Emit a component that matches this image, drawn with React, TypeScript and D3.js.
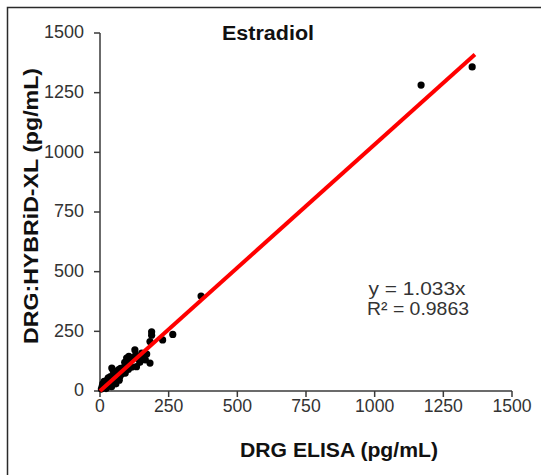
import React from "react";
import * as d3 from "d3";

const title = "Estradiol";
const xLabel = "DRG ELISA (pg/mL)";
const yLabel = "DRG:HYBRiD-XL (pg/mL)";
const xTicks = [0, 250, 500, 750, 1000, 1250, 1500];
const yTicks = [0, 250, 500, 750, 1000, 1250, 1500];
const slope = 1.033;
const eqLine1 = "y = 1.033x";
const eqLine2 = "R² = 0.9863";
const fitXMax = 1365;

const elisa = [
  5, 8, 10, 12, 15, 18, 20, 22, 25, 28, 30, 32, 35, 38, 40, 42, 43, 45, 48, 50,
  52, 55, 58, 60, 65, 68, 70, 72, 75, 78, 80, 84, 88, 90, 92, 95, 97, 100, 103,
  105, 110, 115, 120, 127, 130, 133, 140, 145, 152, 160, 165, 170, 182, 182,
  188, 188, 228, 265, 368, 1169, 1355,
];
const hybrid = [
  8, 20, 30, 15, 40, 25, 35, 10, 45, 20, 55, 35, 28, 60, 42, 18, 96, 50, 85, 35,
  65, 72, 30, 55, 80, 90, 45, 60, 95, 70, 85, 81, 100, 120, 75, 110, 138, 130,
  90, 145, 125, 100, 140, 172, 150, 102, 135, 120, 159, 145, 130, 155, 117, 207,
  234, 248, 214, 237, 398, 1282, 1358,
];

export default function App() {
  const W = 541;
  const H = 475;
  const x = d3.scaleLinear().domain([0, 1500]).range([100, 512]);
  const y = d3.scaleLinear().domain([0, 1500]).range([391, 33]);
  const axisColor = "#3a3a3a";
  const font = "Arial, 'Liberation Sans', sans-serif";
  const pts = elisa.map((v, i) => [v, hybrid[i]]);
  const fit = d3.line<number>().x((d) => x(d)).y((d) => y(d * slope));

  return (
    <svg width={W} height={H} style={{ position: "absolute", left: 0, top: 0 }}>
      <rect x={0} y={0} width={W} height={H} fill="#fff" />
      <rect x={7.5} y={7.5} width={W + 10} height={H + 10} fill="none" stroke="#2a2a2a" strokeWidth={1.5} />
      <text x={268} y={40} textAnchor="middle" fontFamily={font} fontWeight="bold" fontSize={20} fill="#111" textLength={92} lengthAdjust="spacingAndGlyphs">
        {title}
      </text>
      {/* axes */}
      <line x1={x(0)} x2={x(1500)} y1={y(0)} y2={y(0)} stroke={axisColor} strokeWidth={1.5} />
      <line x1={x(0)} x2={x(0)} y1={y(0)} y2={y(1500)} stroke={axisColor} strokeWidth={1.5} />
      {xTicks.map((t) => (
        <g key={"xt" + t}>
          <line x1={x(t)} x2={x(t)} y1={y(0)} y2={y(0) + 6} stroke={axisColor} strokeWidth={1.5} />
          <text x={x(t)} y={412} textAnchor="middle" fontFamily={font} fontSize={18} fill="#333" textLength={String(t).length * 9.8} lengthAdjust="spacingAndGlyphs">
            {t}
          </text>
        </g>
      ))}
      {yTicks.map((t) => (
        <g key={"yt" + t}>
          <line x1={x(0) - 6} x2={x(0)} y1={y(t)} y2={y(t)} stroke={axisColor} strokeWidth={1.5} />
          <text x={84} y={y(t)} dy="0.3em" textAnchor="end" fontFamily={font} fontSize={18} fill="#333" textLength={String(t).length * 10} lengthAdjust="spacingAndGlyphs">
            {t}
          </text>
        </g>
      ))}
      {/* points */}
      {pts.map((p, i) => (
        <circle key={i} cx={x(p[0])} cy={y(p[1])} r={3.6} fill="#000" />
      ))}
      {/* regression */}
      <path d={fit([0, fitXMax]) || ""} stroke="#ff0000" strokeWidth={4} fill="none" />
      {/* equation */}
      <text x={417} y={295} textAnchor="middle" fontFamily={font} fontSize={19} fill="#333" textLength={97} lengthAdjust="spacingAndGlyphs">
        {eqLine1}
      </text>
      <text x={418} y={315} textAnchor="middle" fontFamily={font} fontSize={19} fill="#333" textLength={102} lengthAdjust="spacingAndGlyphs">
        {eqLine2}
      </text>
      {/* axis labels */}
      <text x={339} y={457} textAnchor="middle" fontFamily={font} fontWeight="bold" fontSize={20} fill="#111" textLength={198} lengthAdjust="spacingAndGlyphs">
        {xLabel}
      </text>
      <text transform="translate(38,206) rotate(-90)" textAnchor="middle" fontFamily={font} fontWeight="bold" fontSize={20} fill="#111" textLength={276} lengthAdjust="spacingAndGlyphs">
        {yLabel}
      </text>
    </svg>
  );
}
